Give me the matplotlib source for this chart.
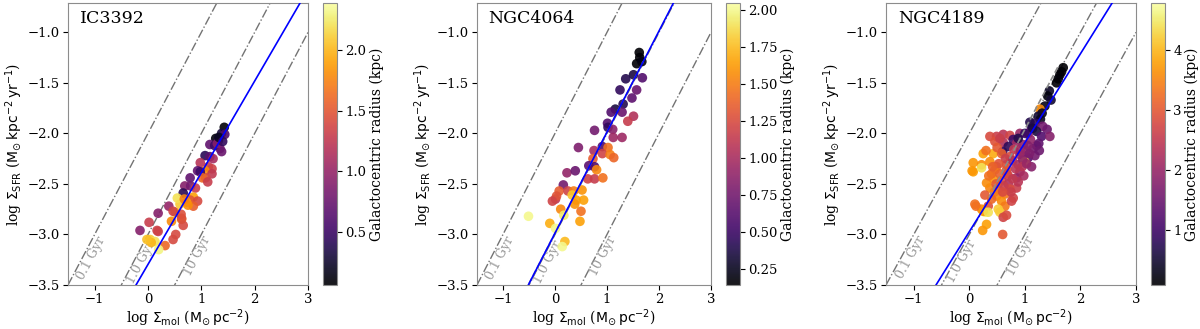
import numpy as np
import matplotlib
matplotlib.use("Agg")
import matplotlib.pyplot as plt

plt.rcParams['font.family'] = ['DejaVu Serif']
plt.rcParams['mathtext.fontset'] = 'dejavusans'

# ---------------- data ----------------
galaxies = ["IC3392", "NGC4064", "NGC4189"]

ic3392_x = [1.43, 1.38, 1.27, 1.32, 1.44, 1.16, 1.35, 1.38, 1.07, 1.16, 0.98, 1.13, 1.20, 1.07, 0.93,
            1.20, 1.08, 0.79, 0.69, 0.80, 0.89, 0.66, 0.85, 0.79, 0.93, 0.60, 0.85, 0.39, 0.51, 0.19,
            0.44, 0.63, 0.66, 0.02, -0.15, 0.19, 0.52, 0.47, 0.04, 0.13, 0.32, 0.20, 0.06, 0.47, 0.63,
            0.17, -0.02, 1.25, 1.30, 1.22, 0.98, 1.02, 1.12, 0.72, 0.75, 0.55, 0.62, 0.68, 1.33, 1.40]
ic3392_y = [-1.94, -2.00, -2.05, -2.07, -2.01, -2.11, -2.15, -2.18, -2.22, -2.23, -2.29, -2.33, -2.35, -2.37, -2.37,
            -2.40, -2.44, -2.44, -2.52, -2.52, -2.54, -2.59, -2.63, -2.66, -2.67, -2.70, -2.72, -2.72, -2.78, -2.79,
            -2.87, -2.85, -2.91, -2.88, -2.96, -2.97, -3.00, -3.05, -3.05, -3.07, -3.11, -3.15, -3.08, -2.77, -2.84,
            -2.96, -3.05, -2.12, -2.10, -2.25, -2.38, -2.44, -2.48, -2.68, -2.71, -2.64, -2.80, -2.65, -2.04, -2.08]
ic3392_r = [0.08, 0.30, 0.12, 0.35, 0.60, 0.70, 0.80, 0.75, 0.40, 0.65, 1.20, 1.30, 1.35, 1.80, 0.70,
            1.25, 1.40, 0.70, 0.90, 0.80, 1.30, 0.40, 1.90, 1.50, 1.40, 2.10, 1.55, 1.00, 1.90, 0.90,
            1.80, 1.70, 1.40, 1.30, 0.90, 1.30, 1.40, 1.40, 2.10, 2.20, 1.60, 2.30, 2.00, 1.35, 1.45,
            1.35, 2.05, 0.50, 0.90, 1.10, 0.50, 1.60, 1.30, 1.90, 1.80, 2.20, 1.45, 1.75, 0.20, 0.45]

ngc4064_x = [1.62, 1.63, 1.57, 1.67, 1.51, 1.36, 1.68, 1.57, 1.25, 1.48, 1.31, 1.16, 1.08, 1.29, 1.51,
             1.40, 1.01, 1.02, 1.11, 0.76, 1.12, 1.29, 0.91, 1.02, 0.45, 0.75, 0.91, 1.06, 1.13, 0.73,
             0.65, 0.76, 0.80, 0.23, 0.39, 0.63, 0.76, 0.92, 0.16, 0.08, 0.25, 0.36, 0.52, 0.01, 0.33,
             0.41, 0.55, 0.38, 0.11, 0.50, -0.51, 0.17, -0.10, 0.48, 0.01, 0.19, 0.14, 0.03, -0.05]
ngc4064_y = [-1.20, -1.25, -1.31, -1.29, -1.42, -1.46, -1.45, -1.57, -1.57, -1.65, -1.71, -1.76, -1.79, -1.79, -1.83,
             -1.88, -1.90, -1.94, -1.96, -1.97, -2.04, -2.04, -2.13, -2.14, -2.14, -2.17, -2.20, -2.21, -2.24, -2.25,
             -2.32, -2.33, -2.36, -2.39, -2.37, -2.45, -2.45, -2.44, -2.51, -2.57, -2.57, -2.57, -2.56, -2.65, -2.61,
             -2.66, -2.66, -2.70, -2.75, -2.77, -2.82, -2.81, -2.89, -2.87, -2.94, -3.07, -3.12, -2.62, -2.67]
ngc4064_r = [0.14, 0.16, 0.14, 0.20, 0.35, 0.40, 0.60, 0.70, 0.45, 0.65, 0.40, 0.35, 0.60, 0.70, 1.05,
             1.15, 0.60, 0.45, 0.85, 0.75, 0.95, 0.95, 0.60, 1.45, 0.80, 1.00, 1.20, 1.50, 1.40, 1.35,
             0.65, 0.60, 1.55, 0.90, 0.70, 1.20, 1.15, 1.45, 0.75, 1.35, 1.20, 1.50, 1.60, 1.10, 1.80,
             1.65, 1.65, 1.60, 1.55, 1.45, 2.00, 1.95, 1.70, 1.65, 2.00, 1.75, 2.00, 1.30, 1.20]

ngc4189_x = [1.69, 1.66, 1.63, 1.60, 1.57, 1.44, 1.41, 1.47, 1.36, 1.27, 1.31, 1.24, 1.28, 1.19, 1.32,
             1.12, 1.21, 1.06, 1.09, 1.40, 1.30, 1.45,
             0.91, 0.61, 0.73, 0.49, 0.37, 0.79, 0.46, 0.61, 0.97, 1.21, 0.85, 1.10, 0.55,
             0.60, 0.70, 0.88, 1.00, 1.14,
             0.25, 0.43, 0.58, 0.37, 0.73, 0.91, 1.06, 0.07, 0.22, 0.49, 0.67, 0.88, 1.00, 1.12, 0.30,
             0.80, 1.15, 1.25, 1.02, 0.50,
             0.07, 0.22, 0.46, 0.67, 0.91, 0.85, 0.43, 0.58, 0.70, 0.37, 0.52, 0.85, 0.73, 0.64, 0.28,
             0.49, 0.79, 0.58, 0.10, 0.34, 0.64, 0.52, 0.22, 0.28, 0.76, 0.55, 0.61, 0.67, 0.31, 0.24,
             0.60, 0.12, 0.25, 0.34, 0.05, 0.31,
             0.96, 1.05, 0.65, 0.40, 0.55, 0.62, 0.45, 0.40, 0.70, 0.95, 1.18, 1.26,
             0.78, 0.92, 1.08, 0.68, 0.83, 0.98, 0.53, 0.75, 0.88, 0.42, 0.60, 0.35, 0.48, 1.03, 0.78]
ngc4189_y = [-1.35, -1.39, -1.42, -1.46, -1.50, -1.58, -1.63, -1.67, -1.73, -1.76, -1.80, -1.83, -1.86, -1.90, -1.93,
             -1.95, -1.98, -2.00, -1.89, -1.96, -2.03, -2.03,
             -2.00, -2.01, -2.02, -2.03, -2.03, -2.06, -2.08, -2.09, -2.11, -2.12, -2.10, -2.06, -2.05,
             -2.18, -2.13, -2.05, -2.00, -1.95,
             -2.20, -2.20, -2.20, -2.28, -2.23, -2.21, -2.24, -2.29, -2.31, -2.33, -2.31, -2.31, -2.28, -2.33, -2.17,
             -2.16, -2.15, -2.10, -2.17, -2.14,
             -2.38, -2.34, -2.36, -2.36, -2.38, -2.44, -2.45, -2.47, -2.50, -2.54, -2.55, -2.54, -2.55, -2.60, -2.61,
             -2.62, -2.64, -2.67, -2.70, -2.72, -2.72, -2.75, -2.75, -2.78, -2.67, -2.78, -2.83, -2.81, -2.90, -2.96,
             -3.00, -2.72, -2.77, -2.78, -2.37, -2.49,
             -2.26, -2.12, -2.25, -2.40, -2.40, -2.52, -2.58, -2.65, -2.42, -2.33, -2.22, -2.17,
             -2.27, -2.18, -2.20, -2.40, -2.35, -2.42, -2.30, -2.58, -2.48, -2.33, -2.58, -2.42, -2.50, -2.30, -2.45]
ngc4189_r = [0.10, 0.12, 0.10, 0.15, 0.10, 0.40, 0.20, 0.50, 0.30, 3.60, 0.30, 0.50, 0.35, 0.80, 1.60,
             0.90, 0.60, 1.70, 0.70, 1.50, 1.20, 1.80,
             2.00, 2.40, 2.70, 2.60, 2.80, 1.00, 2.90, 2.30, 1.90, 1.70, 2.10, 1.90, 2.60,
             0.90, 0.80, 0.70, 0.90, 0.60,
             3.80, 3.90, 3.10, 3.60, 2.80, 2.10, 1.20, 3.70, 3.60, 3.40, 2.90, 2.20, 4.30, 1.80, 3.30,
             2.50, 1.60, 1.40, 2.00, 3.00,
             3.80, 4.40, 3.50, 3.00, 2.10, 2.00, 3.70, 2.90, 2.30, 3.50, 3.00, 2.60, 2.80, 3.40, 3.00,
             3.50, 2.70, 3.60, 3.30, 2.90, 3.40, 4.20, 3.60, 4.60, 2.70, 4.20, 2.70, 2.80, 3.80, 3.70,
             3.00, 3.30, 3.70, 4.40, 3.70, 3.60,
             1.90, 1.80, 2.60, 3.20, 3.10, 2.60, 3.40, 3.20, 2.40, 2.40, 1.60, 1.50,
             2.30, 2.00, 1.70, 2.80, 2.40, 2.20, 2.90, 2.60, 2.40, 3.10, 2.80, 3.30, 3.00, 2.00, 2.50]

# colour ranges (kpc)
r_min = [0.06, 0.14, 0.08]
r_max = [2.39, 2.05, 4.78]
cbar_ticks = [[0.5, 1.0, 1.5, 2.0],
              [0.25, 0.50, 0.75, 1.00, 1.25, 1.50, 1.75, 2.00],
              [1, 2, 3, 4]]

# fitted relations: slope, intercept
fit_slope = [0.907, 1.00, 0.88]
fit_inter = [-3.296, -2.987, -2.972]
# alternative fit (gray dashed): slope, intercept, x-range
alt_slope = [None, 1.00, 1.04]
alt_inter = [None, -2.987, -3.00]
alt_xrange = [None, (-0.5, 1.7), (0.35, 1.6)]

# depletion times and label positions
tdep_gyr = [0.1, 1.0, 10]
tdep_labels = ["0.1 Gyr", "1.0 Gyr", "10 Gyr"]
tdep_label_x = [-1.06, -0.13, 0.92]
tdep_label_y = [-3.23, -3.27, -3.21]

xs_all = [ic3392_x, ngc4064_x, ngc4189_x]
ys_all = [ic3392_y, ngc4064_y, ngc4189_y]
rs_all = [ic3392_r, ngc4064_r, ngc4189_r]

# ---------------- layout ----------------
W, H = 1200, 329
fig = plt.figure(figsize=(W / 100, H / 100), dpi=100)
ax_px = [(68, 240), (477, 234), (886, 250)]
cb_px = [323, 726, 1151]
top_px, bot_px = 3, 285

xlim = (-1.5, 3.0)
ylim = (-3.5, -0.71)

for i in range(3):
    l, w = ax_px[i]
    ax = fig.add_axes([l / W, (H - bot_px) / H, w / W, (bot_px - top_px) / H])
    cax = fig.add_axes([cb_px[i] / W, (H - bot_px) / H, 14 / W, (bot_px - top_px) / H])
    ax.set_xlim(*xlim)
    ax.set_ylim(*ylim)

    xx = np.array(xlim)
    for t in tdep_gyr:
        ax.plot(xx, xx + 6 - np.log10(t * 1e9), ls='-.', color='0.45', lw=1.0, zorder=1)

    sc = ax.scatter(xs_all[i], ys_all[i], c=rs_all[i], cmap='inferno',
                    vmin=r_min[i], vmax=r_max[i], s=48, alpha=0.9,
                    edgecolors='none', zorder=2)

    if alt_slope[i] is not None:
        xa = np.array(alt_xrange[i])
        ax.plot(xa, alt_slope[i] * xa + alt_inter[i], ls='--', color='0.55', lw=1.2, zorder=3)
    ax.plot(xx, fit_slope[i] * xx + fit_inter[i], color='blue', lw=1.2, zorder=4)

    # rotation of depletion-time labels
    p1 = ax.transData.transform((0, 0))
    p2 = ax.transData.transform((1, 1))
    ang = np.degrees(np.arctan2(p2[1] - p1[1], p2[0] - p1[0]))
    for lab, lx, ly in zip(tdep_labels, tdep_label_x, tdep_label_y):
        ax.text(lx, ly, lab, rotation=ang, color='0.6', fontsize=9,
                ha='center', va='center', zorder=1)

    ax.text(0.048, 0.975, galaxies[i], transform=ax.transAxes, va='top', ha='left', fontsize=12.5)

    ax.set_xticks([-1, 0, 1, 2, 3])
    ax.set_yticks([-3.5, -3.0, -2.5, -2.0, -1.5, -1.0])
    ax.tick_params(labelsize=9.5, colors='black', length=3.5, pad=2.5)
    ax.set_xlabel(r'log $\Sigma_{\rm mol}$ ($\rm M_{\odot}\,pc^{-2}$)', fontsize=10, labelpad=1)
    ax.set_ylabel(r'log $\Sigma_{\rm SFR}$ ($\rm M_{\odot}\,kpc^{-2}\,yr^{-1}$)', fontsize=10, labelpad=2)
    for sp in ax.spines.values():
        sp.set_color('0.55')

    cb = fig.colorbar(sc, cax=cax)
    cb.set_ticks(cbar_ticks[i])
    cb.set_label('Galactocentric radius (kpc)', fontsize=10, labelpad=2)
    cb.ax.tick_params(labelsize=9.5, length=3.5, pad=2.5)
    cb.outline.set_edgecolor('0.55')

fig.savefig('out.png', dpi=100)
